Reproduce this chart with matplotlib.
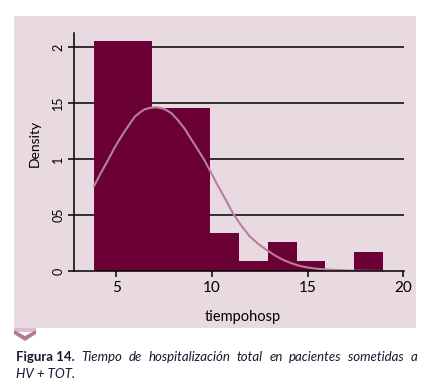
import numpy as np
import matplotlib
matplotlib.use('Agg')
import matplotlib.pyplot as plt
from matplotlib.patches import Rectangle, Polygon

# histogram bins (tiempohosp) and densities
bin_edges = [3.85, 5.36, 6.87, 8.38, 9.89, 11.40, 12.91, 14.42, 15.93, 17.44, 18.95]
densities = [0.2054, 0.2054, 0.1455, 0.1455, 0.0339, 0.0089, 0.0259, 0.0089, 0.0, 0.0170]

# kernel density curve
kde_x = [3.83, 4.2, 4.56, 4.9, 5.25, 5.6, 5.96, 6.25, 6.48, 6.8, 7.09, 7.5, 7.87,
         8.2, 8.57, 8.9, 9.27, 9.6, 9.88, 10.25, 10.67, 11.11, 11.55, 11.99,
         12.43, 12.86, 13.3, 13.73, 14.17, 14.6, 15.05, 15.48, 16.35, 17.4,
         18.2, 18.95]
kde_y = [0.0759, 0.088, 0.099, 0.110, 0.120, 0.129, 0.1378, 0.1418, 0.1444, 0.1458,
         0.1462, 0.1447, 0.1410, 0.135, 0.127, 0.118, 0.108, 0.099, 0.090, 0.078,
         0.065, 0.051, 0.040, 0.0306, 0.024, 0.0187, 0.0138, 0.0098, 0.0068,
         0.0045, 0.003, 0.002, 0.001, 0.0003, 0.0001, 0.0]

yticks = [0, 0.05, 0.1, 0.15, 0.2]
ytick_labels = ['0', '05', '1', '15', '2']
xticks = [5, 10, 15, 20]

W, H = 433, 389
pink = '#e9d9e1'
bar_col = '#6b0037'
kde_col = '#b67f9e'
font = ['Liberation Sans Narrow', 'Lato', 'DejaVu Sans']

fig = plt.figure(figsize=(W / 100, H / 100), dpi=100)
fig.patch.set_facecolor('white')

def fx(px):
    return px / W

def fy(py):
    return 1 - py / H

# pink panel behind the graph
fig.patches.append(Rectangle((fx(14), fy(328)), fx(416) - fx(14), fy(16) - fy(328),
                             transform=fig.transFigure, facecolor=pink,
                             edgecolor='none', zorder=-2))

# little chevron under the panel
fig.patches.append(Rectangle((fx(14), fy(332)), fx(36) - fx(14), fy(328) - fy(332),
                             transform=fig.transFigure, facecolor='#dcbfce',
                             edgecolor='none', zorder=-2))
chev = [(14, 330), (25, 336), (36, 330), (36, 334), (25, 341), (14, 334)]
fig.patches.append(Polygon([(fx(a), fy(b)) for a, b in chev], closed=True,
                           transform=fig.transFigure, facecolor='#b27a99',
                           edgecolor='none', zorder=-1))

ax = fig.add_axes([fx(74), fy(271), fx(404) - fx(74), fy(33) - fy(271)])
ax.set_zorder(2)
ax.set_facecolor(pink)

widths = np.diff(bin_edges)
ax.bar(bin_edges[:-1], densities, width=widths, align='edge', color=bar_col,
       edgecolor='none', zorder=2)
ax.plot(kde_x, kde_y, color=kde_col, lw=1.5, zorder=3, solid_joinstyle='round')

for yv in yticks[1:]:
    ax.axhline(yv, color='black', lw=1.1, zorder=1)

ax.set_xlim(2.78, 20.04)
ax.set_ylim(0, 0.2125)
ax.spines['top'].set_visible(False)
ax.spines['right'].set_visible(False)
for s in ['left', 'bottom']:
    ax.spines[s].set_linewidth(1.1)
    ax.spines[s].set_zorder(4)

ax.set_yticks(yticks)
ax.set_yticklabels(ytick_labels, rotation=90, va='center', family=font, fontsize=9)
ax.set_xticks(xticks)
ax.set_xticklabels([str(v) for v in xticks], family=font, fontsize=11)
ax.tick_params(axis='both', length=4, width=1.1, pad=3)

fig.text(fx(35), fy(143), 'Density', rotation=90, ha='center', va='center',
         family=font, fontsize=10)
fig.text(fx(243), fy(317), 'tiempohosp', ha='center', va='center',
         family=font, fontsize=10.5)

# caption, first line justified
cap_col = '#15182e'
left, right = 15.7, 417
r = fig.canvas.get_renderer()
bold = fig.text(fx(left), fy(357), 'Figura 14.', ha='left', va='center',
                family=font, fontsize=9.5, weight='bold', color=cap_col)
words = ['Tiempo', 'de', 'hospitalización', 'total', 'en', 'pacientes', 'sometidas', 'a']
objs = [fig.text(0, fy(357), w, ha='left', va='center', family=font, fontsize=9.5,
                 style='italic', color=cap_col) for w in words]
wb = bold.get_window_extent(r).width
ws = [o.get_window_extent(r).width for o in objs]
gap = (right - left - wb - sum(ws)) / len(words)
xpos = left + wb + gap
for o, w in zip(objs, ws):
    o.set_x(fx(xpos))
    xpos += w + gap
fig.text(fx(left), fy(374), 'HV + TOT.', ha='left', va='center', family=font,
         fontsize=9.5, style='italic', color=cap_col)

fig.savefig('out.png', dpi=100, facecolor='white')
